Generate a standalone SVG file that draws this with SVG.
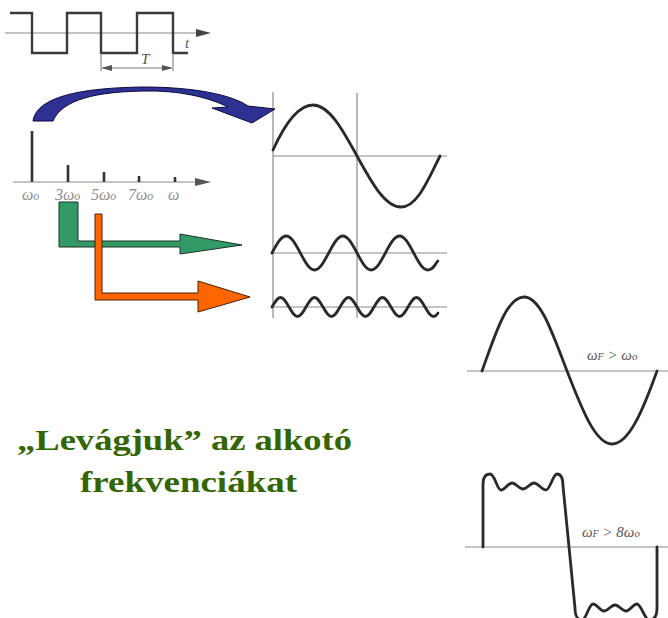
<svg xmlns="http://www.w3.org/2000/svg" width="668" height="618" viewBox="0 0 668 618">
<style>
.ax{stroke:#8a8a8a;stroke-width:1.2;fill:none}
.wv{stroke:#2a2a2a;stroke-width:2.8;fill:none;stroke-linejoin:round;stroke-linecap:round}
.sq{stroke:#3a3a3a;stroke-width:2.4;fill:none}
.ln{stroke:#333;stroke-width:2.6}
.lbl{font-family:"Liberation Serif",serif;font-style:italic;fill:#8c8c8c;font-size:16px}
.hw{font-family:"Liberation Serif",serif;font-style:italic;fill:#555;font-size:15px}
.big{font-family:"Liberation Serif",serif;font-weight:bold;fill:#336600;font-size:29px}
</style>
<rect width="668" height="618" fill="#ffffff"/>

<g id="square-wave">
<line class="ax" x1="5" y1="33" x2="197" y2="33"/>
<path d="M196,29 L211,33 L196,37 Z" fill="#444"/>
<path class="sq" d="M10,13 L32,13 L32,53 L67,53 L67,13 L101,13 L101,53 L137,53 L137,13 L173,13 L173,53 L188,53"/>
<line stroke="#777" stroke-width="1" x1="101" y1="53" x2="101" y2="71"/>
<line stroke="#777" stroke-width="1" x1="173" y1="53" x2="173" y2="71"/>
<line stroke="#777" stroke-width="1" x1="103" y1="68" x2="171" y2="68"/>
<path d="M101,68 L112,65 L112,71 Z" fill="#555"/>
<path d="M173,68 L162,65 L162,71 Z" fill="#555"/>
<text class="hw" x="141" y="64" font-size="14">T</text>
<text class="hw" x="185" y="48" font-size="14">t</text>
</g>

<g id="spectrum">
<line class="ax" x1="13" y1="182" x2="197" y2="182" stroke="#666"/>
<path d="M195,178 L211,182 L195,186 Z" fill="#555"/>
<line class="ln" x1="32" y1="131" x2="32" y2="182"/>
<line class="ln" x1="68" y1="165" x2="68" y2="182"/>
<line class="ln" x1="104" y1="172" x2="104" y2="182"/>
<line class="ln" x1="139" y1="176" x2="139" y2="182"/>
<line class="ln" x1="175" y1="177" x2="175" y2="182"/>
<text class="lbl" x="22" y="200">ω<tspan font-size="12">o</tspan></text>
<text class="lbl" x="55" y="200">3ω<tspan font-size="12">o</tspan></text>
<text class="lbl" x="91" y="200">5ω<tspan font-size="12">o</tspan></text>
<text class="lbl" x="128" y="200">7ω<tspan font-size="12">o</tspan></text>
<text class="lbl" x="168" y="200">ω</text>
</g>

<g id="harmonics">
<line class="ax" x1="273" y1="92" x2="273" y2="318"/>
<line class="ax" x1="357" y1="93" x2="357" y2="318"/>
<line class="ax" x1="273" y1="156" x2="447" y2="156"/>
<line class="ax" x1="273" y1="253" x2="447" y2="253"/>
<line class="ax" x1="273" y1="307" x2="447" y2="307"/>
<path class="wv" d="M273,150 C283,128 297,105 313,105 s 29.3,24.2 44,51 s 28.1,51 44,51 s 26,-25 39,-51"/>
<path class="wv" d="M272,253 c 4.74,-8.93 9.06,-17 14.17,-17 s 9.43,8.07 14.17,17 s 9.06,17 14.17,17 s 9.43,-8.07 14.17,-17 s 9.06,-17 14.17,-17 s 9.43,8.07 14.17,17 s 9.06,17 14.17,17 s 9.43,-8.07 14.17,-17 s 9.06,-17 14.17,-17 s 9.43,8.07 14.17,17 s 9.06,17 14.17,17 s 6,-4 10,-9"/>
<path class="wv" d="M272,307 c 2.84,-5 5.44,-9.5 8.5,-9.5 s 5.66,4.5 8.5,9.5 s 5.44,9.5 8.5,9.5 s 5.66,-4.5 8.5,-9.5 s 5.44,-9.5 8.5,-9.5 s 5.66,4.5 8.5,9.5 s 5.44,9.5 8.5,9.5 s 5.66,-4.5 8.5,-9.5 s 5.44,-9.5 8.5,-9.5 s 5.66,4.5 8.5,9.5 s 5.44,9.5 8.5,9.5 s 5.66,-4.5 8.5,-9.5 s 5.44,-9.5 8.5,-9.5 s 5.66,4.5 8.5,9.5 s 5.44,9.5 8.5,9.5 s 5.66,-4.5 8.5,-9.5 s 5.44,-9.5 8.5,-9.5 s 5.66,4.5 8.5,9.5 s 5.44,9.5 8.5,9.5 s 3,-1.5 4.5,-3.5"/>
</g>

<g id="caption">
<text class="big" x="17" y="450" textLength="335" lengthAdjust="spacingAndGlyphs">„Levágjuk” az alkotó</text>
<text class="big" x="80" y="492" textLength="217" lengthAdjust="spacingAndGlyphs">frekvenciákat</text>
</g>

<g id="filtered">
<line class="ax" x1="467" y1="371" x2="668" y2="371"/>
<line class="ax" x1="465" y1="547" x2="668" y2="547"/>
<path class="wv" d="M482,371 C496,332 507,297 524,297 C541,297 553,335 567,371 C581,407 595,444 612,444 C629,444 643,410 657,371"/>
<text class="hw" x="587" y="360">ω<tspan font-size="10">F</tspan> &gt; ω<tspan font-size="11">o</tspan></text>
<path class="wv" d="M483,547 L483,484 C483,476 486,474 490,474 C495,474 497,490 501,490 C505,490 508,483 512,483 C516,483 519,489 523,489 C527,489 530,483 534,483 C538,483 542,490 546,490 C550,490 553,474 557,474 C561,474 563,478 563,486 L575,608 C575,616 578,620 582,620 C586,620 589,604 593,604 C597,604 600,611 604,611 C608,611 611,605 615,605 C619,605 622,611 626,611 C630,611 633,604 637,604 C641,604 645,620 649,620 C654,620 657,616 657,608 L657,547"/>
<text class="hw" x="582" y="537">ω<tspan font-size="10">F</tspan> &gt; 8ω<tspan font-size="11">o</tspan></text>
</g>

<g id="connectors">
<path d="M33,121 C36,100 70,88 143,87 C195,87 232,95 248,106 L275,109 L252,123 L212,108 L228,107 C212,99 185,91 150,91 C95,91 62,100 53,121 Z" fill="#2e3192" stroke="#0a0a40" stroke-width="1"/>
<path d="M59,202 L78,202 L78,241 L180,241 L180,234 L242,245 L180,254 L180,247 L59,247 Z" fill="#339966" stroke="#1a3326" stroke-width="1"/>
<path d="M95,214 L102,214 L102,293 L198,293 L198,281 L250,297 L198,312 L198,300 L95,300 Z" fill="#ff6600" stroke="#4d1f00" stroke-width="1"/>
</g>
</svg>
